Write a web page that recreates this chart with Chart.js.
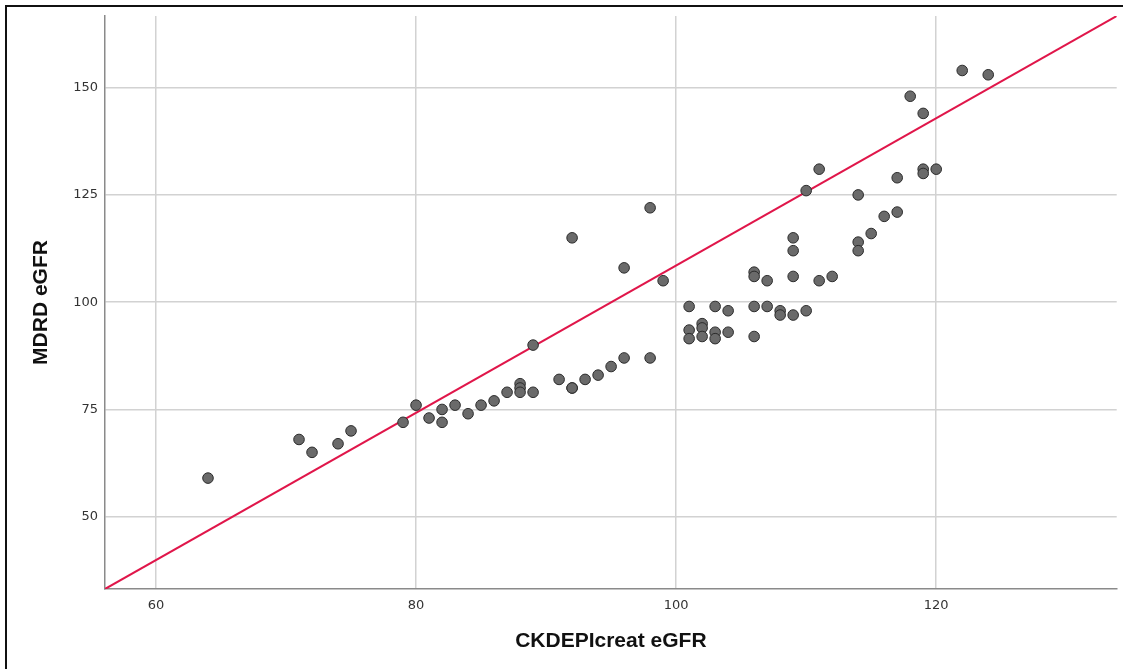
<!DOCTYPE html>
<html>
<head>
<meta charset="utf-8">
<script src="https://cdn.jsdelivr.net/npm/chart.js@4.4.1/dist/chart.umd.min.js"></script>
<style>
    html, body { margin: 0; padding: 0; background: #fff; overflow: hidden; }
    #frame {
        position: absolute; left: 5px; top: 5px;
        width: 1140px; height: 700px;
        border: 2px solid #111;
    }
    #wrap { position: absolute; left: 0; top: 0; width: 1123px; height: 669px; }
</style>
</head>
<body>
<div id="frame"></div>
<div id="wrap"><canvas id="scatterChart" width="1123" height="669"></canvas></div>
<script>
// CKD-EPI creatinine eGFR (x) vs MDRD eGFR (y)
const ckdepiValues = [
    64, 71, 72, 74, 75, 79, 80, 81, 82, 82,
    83, 84, 85, 86, 87, 88, 88, 88, 89, 89,
    91, 92, 92, 92, 93, 94, 95, 96, 96, 98,
    98, 99, 101, 101, 101, 102, 102, 102, 103, 103,
    103, 104, 104, 106, 106, 106, 106, 107, 107, 108,
    108, 109, 109, 109, 109, 110, 110, 111, 111, 112,
    114, 114, 114, 115, 116, 117, 117, 118, 119, 119,
    119, 120, 122, 124
];
const mdrdValues = [
    59, 68, 65, 67, 70, 72, 76, 73, 75, 72,
    76, 74, 76, 77, 79, 81, 80, 79, 90, 79,
    82, 80, 80, 115, 82, 83, 85, 87, 108, 87,
    122, 105, 99, 93.5, 91.5, 95, 94, 92, 99, 93,
    91.5, 98, 93, 107, 106, 99, 92, 105, 99, 98,
    97, 115, 112, 106, 97, 126, 98, 131, 105, 106,
    125, 114, 112, 116, 120, 129, 121, 148, 144, 131,
    130, 131, 154, 153
];

// reference line end points (runs corner to corner of the plot)
const fitLineX = [56.08, 133.88];
const fitLineY = [33.15, 166.7];

const xTickValues = [60, 80, 100, 120];
const yTickValues = [50, 75, 100, 125, 150];

const xLabel = 'CKDEPIcreat eGFR';
const yLabel = 'MDRD eGFR';

document.addEventListener('DOMContentLoaded', function() {
    const ctx = document.getElementById('scatterChart').getContext('2d');

    const points = ckdepiValues.map((x, i) => ({ x: x, y: mdrdValues[i] }));
    const linePoints = fitLineX.map((x, i) => ({ x: x, y: fitLineY[i] }));

    new Chart(ctx, {
        type: 'scatter',
        data: {
            datasets: [{
                label: 'Fit',
                data: linePoints,
                showLine: true,
                borderColor: '#e0164a',
                borderWidth: 2,
                pointRadius: 0,
                fill: false,
                order: 2
            }, {
                label: 'Cases',
                data: points,
                pointRadius: 5.3,
                pointBackgroundColor: '#6a6a6a',
                pointBorderColor: '#2b2b2b',
                pointBorderWidth: 1,
                order: 1
            }]
        },
        options: {
            responsive: false,
            animation: false,
            layout: {
                padding: { left: 0, right: 5, top: 16, bottom: 0 }
            },
            plugins: {
                legend: { display: false },
                tooltip: { enabled: false }
            },
            scales: {
                x: {
                    type: 'linear',
                    min: 56.08,
                    max: 133.88,
                    afterBuildTicks: axis => {
                        axis.ticks = xTickValues.map(v => ({ value: v }));
                    },
                    afterFit: axis => { axis.height = 80; },
                    grid: {
                        color: '#d2d2d2',
                        lineWidth: 1.5,
                        drawTicks: false
                    },
                    border: { color: '#8a8a8a', width: 1.5 },
                    ticks: {
                        padding: 9,
                        color: '#333',
                        font: { family: 'DejaVu Sans', size: 13 }
                    },
                    title: {
                        display: true,
                        text: xLabel,
                        color: '#111',
                        font: { family: 'Liberation Sans', size: 21, weight: 'bold' },
                        padding: { top: 0, bottom: 15 }
                    }
                },
                y: {
                    type: 'linear',
                    min: 33.15,
                    max: 166.7,
                    afterBuildTicks: axis => {
                        axis.ticks = yTickValues.map(v => ({ value: v }));
                    },
                    afterFit: axis => { axis.width = 105; },
                    grid: {
                        color: '#d2d2d2',
                        lineWidth: 1.5,
                        drawTicks: false
                    },
                    border: { color: '#8a8a8a', width: 1.5 },
                    ticks: {
                        padding: 7,
                        color: '#333',
                        font: { family: 'DejaVu Sans', size: 13 }
                    },
                    title: {
                        display: true,
                        text: yLabel,
                        color: '#111',
                        font: { family: 'Liberation Sans', size: 21, weight: 'bold' },
                        padding: { top: 29, bottom: 0 }
                    }
                }
            }
        }
    });
});
</script>
</body>
</html>
